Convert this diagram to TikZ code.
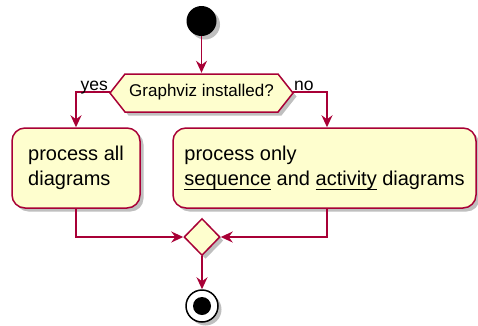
\documentclass[tikz,border=0pt]{standalone}
\usepackage{fontspec}
\setmainfont{Liberation Sans}
\usetikzlibrary{shapes.geometric,arrows.meta,shadows}
\definecolor{umlred}{HTML}{A80036}
\definecolor{umlfill}{HTML}{FEFECE}
\newcommand\myul[1]{\leavevmode\setbox0\hbox{#1}\rlap{\rule[-4.5pt]{\wd0}{1.1pt}}\box0\relax}
\begin{document}
\begin{tikzpicture}[x=1pt,y=-1pt,
  shad/.style={drop shadow={shadow xshift=3.5pt,shadow yshift=-3.5pt,fill=black,opacity=0.25}},
  actbox/.style={draw=umlred,fill=umlfill,line width=1.5pt,rounded corners=13pt,shad,
    minimum height=80pt,align=left,inner sep=0pt,font=\fontsize{20}{25}\selectfont},
  flow/.style={draw=umlred,line width=1.5pt,-{Stealth[length=12pt,width=11pt,inset=4pt]}},
  lbl/.style={font=\fontsize{17.5}{20}\selectfont,inner sep=0pt},
]
\useasboundingbox (0,0) rectangle (478,325);
% start
\node[circle,fill=black,minimum size=30pt,inner sep=0pt,shad] (start) at (201.5,21) {};
% decision hexagon
\path[draw=umlred,fill=umlfill,line width=1.5pt,shad]
  (110,93) -- (125,74) -- (278,74) -- (293,93) -- (278,112) -- (125,112) -- cycle;
\node[minimum width=183pt,minimum height=38pt,inner sep=0pt,
      font=\fontsize{17}{20}\selectfont] (dec) at (201.5,92) {Graphviz installed?};
% activities
\node[actbox,minimum width=128pt] (A) at (76,168) {process all\\diagrams};
\node[actbox,minimum width=303pt] (B) at (324.5,168)
  {process only\\\myul{sequence} and \myul{activity} diagrams};
\coordinate (bin) at ([xshift=2.5pt]B.north);
\coordinate (bout) at ([xshift=2.5pt]B.south);
% merge
\node[diamond,draw=umlred,fill=umlfill,line width=1.5pt,minimum width=36pt,
      minimum height=37pt,inner sep=0pt,shad] (M) at (202,237) {};
% end
\node[circle,draw=black,line width=1.5pt,fill=white,minimum size=32pt,inner sep=0pt,shad] (end) at (202,306) {};
\node[circle,fill=black,minimum size=18pt,inner sep=0pt] (endin) at (end) {};
% connectors
\draw[flow] (start) -- (dec.north);
\draw[flow] (dec.west) -| (A.north);
\draw[flow] (dec.east) -| (bin);
\node[lbl,anchor=base east] (yes) at (108,90) {yes};
\node[lbl,anchor=base west] (no) at (294,90) {no};
\draw[flow] (A.south) |- (M.west);
\draw[flow] (bout) |- (M.east);
\draw[flow] (M.south) -- (end.north);
\end{tikzpicture}
\end{document}
